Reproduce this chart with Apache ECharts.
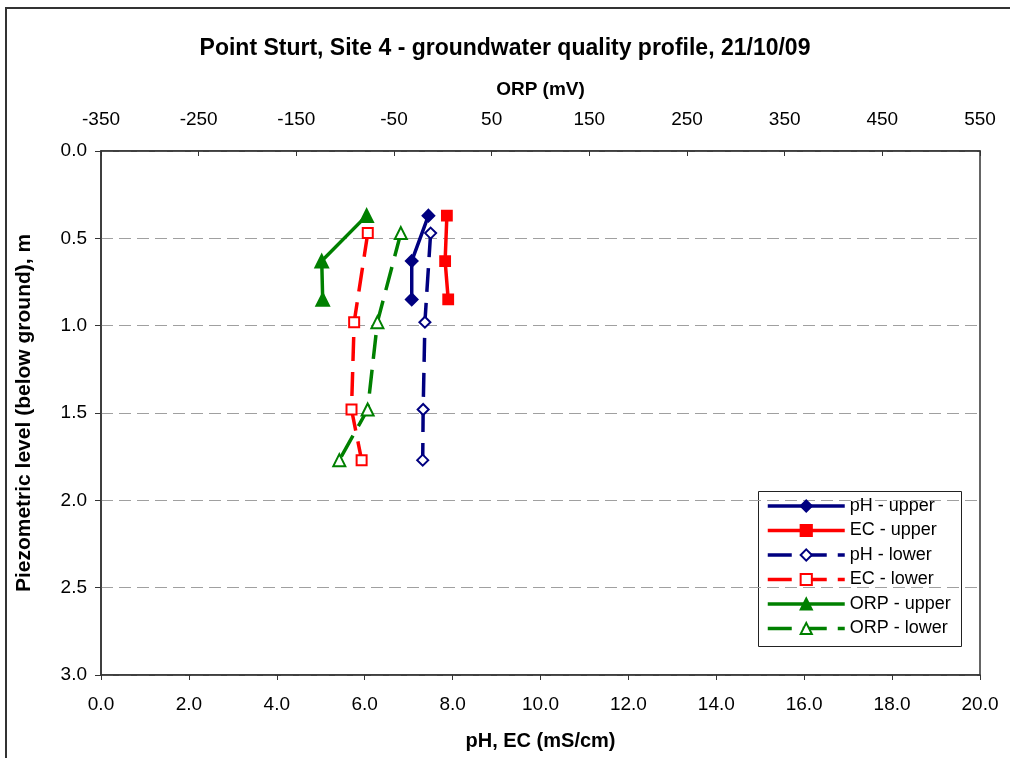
<!DOCTYPE html>
<html>
<head>
<meta charset="utf-8">
<script src="https://cdn.jsdelivr.net/npm/echarts@6/dist/echarts.min.js"></script>
<style>
html,body{margin:0;padding:0;background:#fff;}
#chart{width:1010px;height:758px;}
</style>
</head>
<body>
<div id="chart"></div>
<script>
// ---- data ----
const depthsUpper = [0.37, 0.63, 0.85];
const depthsLower = [0.47, 0.98, 1.48, 1.77];
const phUpper  = [7.45, 7.07, 7.07];
const ecUpper  = [7.87, 7.83, 7.90];
const orpUpper = [-78, -124, -123];
const phLower  = [7.50, 7.37, 7.33, 7.32];
const ecLower  = [6.07, 5.76, 5.70, 5.93];
const orpLower = [-43, -67, -77, -106];
const seriesNames = ['pH - upper', 'EC - upper', 'pH - lower', 'EC - lower', 'ORP - upper', 'ORP - lower'];
const titleText = 'Point Sturt, Site 4 - groundwater quality profile, 21/10/09';
const xBottomName = 'pH, EC (mS/cm)';
const xTopName = 'ORP (mV)';
const yName = 'Piezometric level (below ground), m';

const pair = (xs, ys) => xs.map((v, i) => [v, ys[i]]);

const FONT = '"Liberation Sans", Arial, sans-serif';
const NAVY = '#000080', RED = '#ff0000', GREEN = '#008000';
const DASH = [24, 11];

function mk(name, xs, ys, color, symbol, size, dashed, axisIdx) {
  return {
    name: name, type: 'line', xAxisIndex: axisIdx, yAxisIndex: 0,
    data: pair(xs, ys),
    symbol: symbol, symbolSize: size, showSymbol: true,
    lineStyle: { color: color, width: 3.5, type: dashed ? DASH : 'solid' },
    itemStyle: { color: color, borderColor: color, borderWidth: 1.8 },
    emphasis: { disabled: true },
    animation: false, z: 3
  };
}

const chart = echarts.init(document.getElementById('chart'), null, { renderer: 'canvas' });
chart.setOption({
  animation: false,
  backgroundColor: '#fff',
  textStyle: { fontFamily: FONT, color: '#000' },
  title: {
    text: titleText, left: 'center', top: 32,
    textStyle: { fontFamily: FONT, fontWeight: 'bold', fontSize: 23, color: '#000' }
  },
  grid: {
    left: 101, top: 151, width: 879, height: 524,
    show: true, borderColor: '#333', borderWidth: 1.5, backgroundColor: '#fff'
  },
  xAxis: [
    {
      type: 'value', position: 'bottom', min: 0, max: 20, interval: 2,
      name: xBottomName, nameLocation: 'middle', nameGap: 56,
      nameTextStyle: { fontFamily: FONT, fontWeight: 'bold', fontSize: 20, color: '#000' },
      axisLine: { show: true, onZero: false, lineStyle: { color: '#333', width: 1.5 } },
      axisTick: { show: true, inside: false, length: 5, lineStyle: { color: '#333' } },
      axisLabel: { fontFamily: FONT, fontSize: 19, color: '#000', margin: 20,
        formatter: v => v.toFixed(1) },
      splitLine: { show: false }
    },
    {
      type: 'value', position: 'top', min: -350, max: 550, interval: 100,
      name: xTopName, nameLocation: 'middle', nameGap: 52,
      nameTextStyle: { fontFamily: FONT, fontWeight: 'bold', fontSize: 19, color: '#000' },
      axisLine: { show: true, onZero: false, lineStyle: { color: '#333', width: 1.5 } },
      axisTick: { show: true, inside: true, length: 5, lineStyle: { color: '#333' } },
      axisLabel: { fontFamily: FONT, fontSize: 19, color: '#000', margin: 22,
        formatter: v => String(v) },
      splitLine: { show: false }
    }
  ],
  yAxis: [
    {
      type: 'value', inverse: true, min: 0, max: 3, interval: 0.5,
      name: yName, nameLocation: 'middle', nameGap: 66, nameRotate: 90,
      nameTextStyle: { fontFamily: FONT, fontWeight: 'bold', fontSize: 21, color: '#000' },
      axisLine: { show: true, onZero: false, lineStyle: { color: '#333', width: 1.5 } },
      axisTick: { show: true, inside: false, length: 6, lineStyle: { color: '#333' } },
      axisLabel: { fontFamily: FONT, fontSize: 19, color: '#000', margin: 14,
        formatter: v => v.toFixed(1) },
      splitLine: { show: true, lineStyle: { color: '#a0a0a0', width: 1, type: [12, 6] } }
    }
  ],
  legend: {
    orient: 'vertical', left: 766, top: 497,
    padding: 0, itemWidth: 77, itemHeight: 14, itemGap: 6.5,
    data: seriesNames,
    lineStyle: { width: 3.5 },
    textStyle: { fontFamily: FONT, fontSize: 18, lineHeight: 16, color: '#000' },
    selectedMode: false
  },
  graphic: [
    { type: 'rect', left: 758, top: 491, shape: { width: 203, height: 155 },
      style: { fill: '#fff', stroke: '#222', lineWidth: 1 }, z: 0, zlevel: 0, silent: true },
    { type: 'rect', shape: { x: 6, y: 8, width: 1100, height: 800 },
      style: { fill: 'none', stroke: '#333', lineWidth: 2 }, silent: true }
  ],
  series: [
    mk(seriesNames[0], phUpper, depthsUpper, NAVY, 'diamond', 12, false, 0),
    mk(seriesNames[1], ecUpper, depthsUpper, RED, 'rect', 10, false, 0),
    mk(seriesNames[2], phLower, depthsLower, NAVY, 'emptyDiamond', 11, true, 0),
    mk(seriesNames[3], ecLower, depthsLower, RED, 'emptyRect', 10, true, 0),
    mk(seriesNames[4], orpUpper, depthsUpper, GREEN, 'triangle', 13, false, 1),
    mk(seriesNames[5], orpLower, depthsLower, GREEN, 'emptyTriangle', 12, true, 1)
  ]
});
</script>
</body>
</html>
